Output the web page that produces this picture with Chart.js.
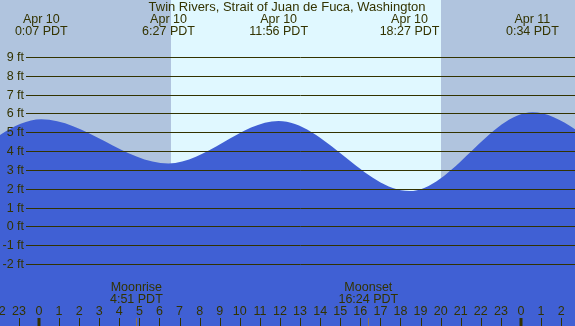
<!DOCTYPE html>
<html>
<head>
<meta charset="utf-8">
<script src="https://cdn.jsdelivr.net/npm/chart.js@4.4.0/dist/chart.umd.min.js"></script>
<style>
html, body { margin: 0; padding: 0; background: #b0c4de; }
#wrap { width: 575px; height: 326px; }
</style>
</head>
<body>
<div id="wrap"><canvas id="tideChart" width="575" height="326"></canvas></div>
<script>
// Tide chart - Twin Rivers, Strait of Juan de Fuca

const stationName = 'Twin Rivers, Strait of Juan de Fuca, Washington';

// tide extremes, hours from midnight Apr 10 (PDT); first/last two are off screen
const tideHours = [-12.3, -6.1, 0.117, 6.45, 11.933, 18.45, 24.567, 30.8, 37.0];
const tideFeet  = [5.8, 2.4, 5.7, 3.35, 5.6, 1.88, 6.07, 2.7, 6.0];
const tideDates = [null, null, 'Apr 10', 'Apr 10', 'Apr 10', 'Apr 10', 'Apr 11', null, null];
const tideTimes = [null, null, '0:07 PDT', '6:27 PDT', '11:56 PDT', '18:27 PDT', '0:34 PDT', null, null];

// sunrise / sunset (hours)
const sunHours = [6.574, 20.017];

// moon events
const moonNames = ['Moonrise', 'Moonset'];
const moonHours = [4.85, 16.4];
const moonTimes = ['4:51 PDT', '16:24 PDT'];

// axis ticks
const feetTicks = [-2, -1, 0, 1, 2, 3, 4, 5, 6, 7, 8, 9];
const hourTicks = [];
for (let h = -2; h <= 26; h++) hourTicks.push(h);

const nightColor = '#b0c4de';
const dayColor = '#e0f8ff';
const waterColor = '#4060d4';
const inkColor = '#333300';
const font = '12.5px "Liberation Sans", Arial, sans-serif';
const titleFont = '13px "Liberation Sans", Arial, sans-serif';

const tideDecor = {
    id: 'tideDecor',
    beforeDatasetsDraw(chart) {
        const { ctx, chartArea: a, scales: { x } } = chart;
        ctx.save();
        ctx.fillStyle = nightColor;
        ctx.fillRect(a.left, a.top, a.width, a.height);
        const x0 = Math.round(x.getPixelForValue(sunHours[0]));
        const x1 = Math.round(x.getPixelForValue(sunHours[1]));
        ctx.fillStyle = dayColor;
        ctx.fillRect(x0, a.top, x1 - x0, a.height);
        ctx.restore();
    },
    afterDatasetsDraw(chart) {
        const { ctx, chartArea: a, scales: { x, y } } = chart;
        ctx.save();
        ctx.font = font;
        ctx.fillStyle = inkColor;
        ctx.textBaseline = 'middle';

        // height grid + labels
        ctx.strokeStyle = inkColor;
        ctx.lineWidth = 1;
        feetTicks.forEach(ft => {
            const py = Math.round(y.getPixelForValue(ft)) + 0.5;
            ctx.beginPath();
            ctx.moveTo(26, py);
            ctx.lineTo(a.right, py);
            ctx.stroke();
            ctx.textAlign = 'right';
            ctx.fillText(ft + ' ft', 24, py);
        });

        // title
        ctx.textAlign = 'center';
        ctx.font = titleFont;
        ctx.fillText(stationName, 287, 7.5);
        ctx.font = font;

        // high / low labels
        tideHours.forEach((h, i) => {
            if (!tideDates[i]) return;
            const px = x.getPixelForValue(h);
            ctx.fillText(tideDates[i], px, 20);
            ctx.fillText(tideTimes[i], px, 32);
        });

        // moon labels
        moonHours.forEach((h, i) => {
            const px = x.getPixelForValue(h);
            ctx.fillText(moonNames[i], px, 288);
            ctx.fillText(moonTimes[i], px, 300);
        });

        // hour labels and ticks
        hourTicks.forEach(h => {
            const px = x.getPixelForValue(h);
            ctx.fillText(String((h + 24) % 24), px, 312);
            ctx.beginPath();
            if (h % 24 === 0) {
                ctx.lineWidth = 3;
                ctx.moveTo(Math.round(px), 318);
                ctx.lineTo(Math.round(px), 326);
            } else {
                ctx.lineWidth = 1;
                ctx.moveTo(Math.round(px) + 0.5, 318);
                ctx.lineTo(Math.round(px) + 0.5, 326);
            }
            ctx.stroke();
        });

        // moon ticks
        ctx.strokeStyle = '#8b7355';
        ctx.lineWidth = 1;
        moonHours.forEach(h => {
            const px = Math.round(x.getPixelForValue(h)) + 0.5;
            ctx.beginPath();
            ctx.moveTo(px, 318);
            ctx.lineTo(px, 326);
            ctx.stroke();
        });
        ctx.restore();
    }
};

new Chart(document.getElementById('tideChart'), {
    type: 'line',
    data: {
        datasets: [{
            data: tideHours.map((h, i) => ({ x: h, y: tideFeet[i] })),
            borderWidth: 0,
            borderColor: waterColor,
            backgroundColor: waterColor,
            fill: 'start',
            pointRadius: 0,
            cubicInterpolationMode: 'monotone'
        }]
    },
    options: {
        responsive: false,
        animation: false,
        devicePixelRatio: 1,
        layout: { padding: 0 },
        plugins: { legend: { display: false }, tooltip: { enabled: false }, title: { display: false } },
        scales: {
            x: { type: 'linear', min: -1.94, max: 26.69, display: false },
            y: { type: 'linear', min: -5.29, max: 12.03, display: false }
        }
    },
    plugins: [tideDecor]
});
</script>
</body>
</html>
